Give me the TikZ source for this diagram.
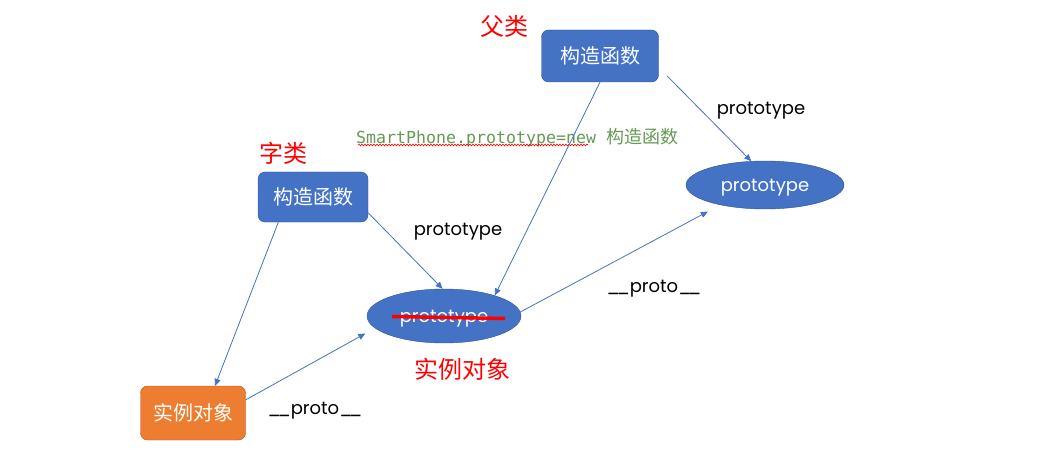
\documentclass[tikz,border=0pt]{standalone}
\usepackage{fontspec}
\setmainfont{Poppins}
\newfontfamily\cjk{Noto Sans CJK SC}
\newfontfamily\codefont{DejaVu Sans Mono}
\usetikzlibrary{shapes.geometric,arrows.meta,decorations.pathmorphing}

\definecolor{boxblue}{HTML}{4472C4}
\definecolor{boxrand}{HTML}{2F528F}
\definecolor{orangefill}{HTML}{ED7D31}
\definecolor{orangerand}{HTML}{AE5A21}
\definecolor{codegreen}{HTML}{659A55}
\definecolor{rot}{HTML}{FF0000}
\newcommand{\doppelstrich}{\_\kern-3.2pt\_}

\begin{document}
\begin{tikzpicture}[
    x=1pt, y=-1pt,
	kasten/.style={
	  rectangle,
	  rounded corners=7pt,
	  inner sep=0pt,
	  draw=boxrand,
	  fill=boxblue,
	  text=white,
	  font=\cjk\fontsize{20}{24}\selectfont
	},
	oval/.style={
	  ellipse,
	  inner sep=0pt,
	  text depth=0pt,
	  draw=boxrand,
	  fill=boxblue,
	  text=white,
	  font=\fontsize{18}{22}\selectfont
	},
	titel/.style={
	  text=rot,
	  font=\cjk\fontsize{24}{28}\selectfont
	},
	beschr/.style={
	  text depth=0pt,
	  text=black,
	  font=\fontsize{18}{22}\selectfont
	},
 	line/.style={draw=boxblue, line width=0.8pt, -{Triangle[length=7pt,width=6pt]}}
	]
	\fill[white] (0,0) rectangle (1061,476);
	\useasboundingbox (0,0) rectangle (1061,476);
    \node at (600,56) [kasten, minimum width=117pt, minimum height=52pt] (vaterfkt) {构造函数};
	\node at (313,197) [kasten, minimum width=110pt, minimum height=50pt] (kindfkt) {构造函数};
	\node at (193,413) [kasten, fill=orangefill, draw=orangerand, minimum width=105pt, minimum height=54pt] (instanz) {实例对象};
	\node at (444,316) [oval, minimum width=154pt, minimum height=54pt] (kindproto) {prototype};
	\node at (765,185) [oval, minimum width=158pt, minimum height=48pt] (vaterproto) {prototype};
	\node at (504,26) [titel] (vater) {父类};
	\node at (283,153) [titel] (kind) {字类};
	\node at (462,369) [titel] (instanztitel) {实例对象};
	\node at (761,108) [beschr] (protoa) {prototype};
	\node at (458,229) [beschr] (protob) {prototype};
	\node at (654,286) [beschr] (protoc) {\doppelstrich proto\doppelstrich};
	\node at (315,408) [beschr] (protod) {\doppelstrich proto\doppelstrich};
	\node at (356,138) [anchor=west, inner sep=0pt, text=codegreen, font=\codefont\fontsize{16.6}{20}\selectfont] (zuweisung) {SmartPhone.prototype=new {\cjk\fontsize{18}{20}\selectfont 构造函数}};
	\draw[rot, line width=0.6pt, decorate, decoration={snake, amplitude=0.9pt, segment length=3pt}] (358,145) -- (588,145);
	\draw[rot, line width=3.5pt] (392,316.5) -- (505,318.5);
	\path[line] (vaterfkt.south) -- (kindproto.22);
	\path[line, shorten <=12pt] (vaterfkt.-11) -- (vaterproto.120);
	\path[line] (kindfkt.-16) -- (kindproto.93);
	\path[line] (kindfkt.216) -- (instanz.51);
	\path[line, shorten >=11pt] (instanz.14) -- (kindproto.190);
	\path[line, shorten >=14pt] (kindproto.3) -- (vaterproto.204);
  \end{tikzpicture}
\end{document}
